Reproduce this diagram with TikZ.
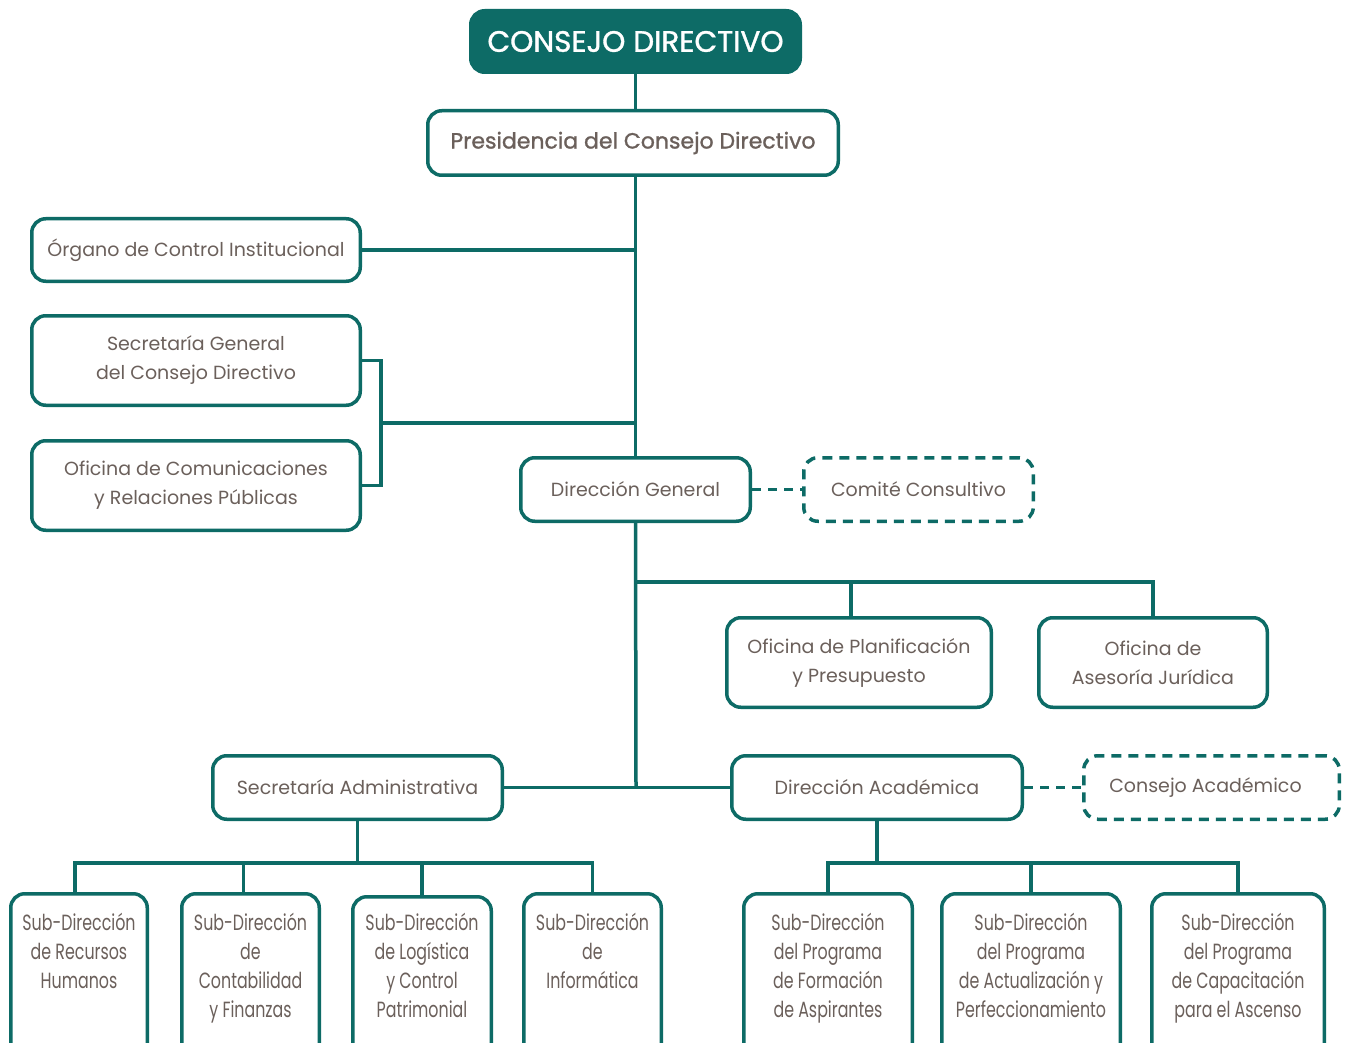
\documentclass[tikz,border=0pt]{standalone}
\usepackage{fontspec}
\setmainfont{Poppins}
\newfontfamily\condfont[FakeStretch=0.72]{Poppins}
\newfontfamily\medfont[FakeBold=1.2]{Poppins}
\usetikzlibrary{calc}
\definecolor{teal1}{HTML}{0D6B66}
\definecolor{txt}{HTML}{6B605B}
\newcommand\mkbox[7]{\node[#1, minimum width={(#5-#3-3.5)*1pt}, minimum height={(#6-#4-3.5)*1pt}] (#2) at ({(#3+#5)/2},{(#4+#6)/2}) {#7};}
\newcommand\subtext[3][17pt]{\parbox[c][160pt][t]{#2}{\centering\condfont\fontsize{22}{29}\selectfont\vspace*{#1}#3}}
\begin{document}
\begin{tikzpicture}[x=1pt,y=-1pt,
  box/.style={draw=teal1, line width=3.5pt, rounded corners=14pt, fill=white, text=txt, align=center,
    font=\fontsize{19}{29}\selectfont, inner sep=0pt},
  dbox/.style={box, dash pattern=on 10pt off 7pt},
  topbox/.style={box, fill=teal1, text=white, font=\medfont\fontsize{29.5}{32}\selectfont},
  link/.style={draw=teal1, line width=3.5pt},
  dlink/.style={link, dash pattern=on 9pt off 7pt}]
\path[use as bounding box, clip] (0,0) rectangle (1352,1043);
\fill[white] (0,0) rectangle (1352,1043);
% boxes
\mkbox{topbox}{cd}{469}{9}{802}{74}{CONSEJO DIRECTIVO}
\mkbox{box, font=\medfont\fontsize{22}{29}\selectfont}{pres}{426}{109}{840}{177}{Presidencia del Consejo Directivo}
\mkbox{box}{org}{30}{217}{362}{283}{Órgano de Control Institucional}
\mkbox{box}{sg}{30}{314}{362}{407}{Secretaría General\\del Consejo Directivo}
\mkbox{box}{ofc}{30}{439}{362}{532}{Oficina de Comunicaciones\\y Relaciones Públicas}
\mkbox{box}{dg}{519}{456}{752}{523}{Dirección General}
\mkbox{dbox}{cc}{802}{456}{1035}{523}{Comité Consultivo}
\mkbox{box}{opp}{725}{616}{993}{709}{Oficina de Planificación\\y Presupuesto}
\mkbox{box}{oaj}{1037}{616}{1269}{709}{Oficina de\\Asesoría Jurídica}
\mkbox{box}{sa}{211}{754}{504}{821}{Secretaría Administrativa}
\mkbox{box}{da}{730}{754}{1024}{821}{Dirección Académica}
\mkbox{dbox}{ca}{1082}{754}{1341}{821}{\hspace*{-12pt}Consejo Académico}
% bottom left
\mkbox{box}{s1}{9}{892}{149}{1060}{\subtext{134pt}{Sub-Dirección\\de Recursos\\Humanos}}
\mkbox{box}{s2}{180}{892}{321}{1060}{\subtext{134pt}{Sub-Dirección\\de\\Contabilidad\\y Finanzas}}
\mkbox{box}{s3}{351}{895}{493}{1063}{\subtext[14pt]{134pt}{Sub-Dirección\\de Logística\\y Control\\Patrimonial}}
\mkbox{box}{s4}{522}{892}{663}{1060}{\subtext{134pt}{Sub-Dirección\\de\\Informática}}
% bottom right
\mkbox{box}{s5}{742}{892}{914}{1060}{\subtext{166pt}{Sub-Dirección\\del Programa\\de Formación\\de Aspirantes}}
\mkbox{box}{s6}{940}{892}{1122}{1060}{\subtext{176pt}{Sub-Dirección\\del Programa\\de Actualización y\\Perfeccionamiento}}
\mkbox{box}{s7}{1150}{892}{1326}{1060}{\subtext{170pt}{Sub-Dirección\\del Programa\\de Capacitación\\para el Ascenso}}
% connectors
\coordinate (spine) at (636,786);
\draw[link] (cd.south) -- (cd.south |- pres.north);
\draw[link] (pres.south -| cd.south) -- (dg.north -| cd.south);
\draw[link] (dg.south -| cd.south) -- (spine);
\draw[link] (org.east) -- (org.east -| cd.south);
\draw[link] (sg.east) -- ++(19,0) coordinate (b1) -- (b1 |- ofc.east) -- (ofc.east);
\draw[link] ($(b1)!0.5!(b1 |- ofc.east)$) coordinate (bm) -- (bm -| cd.south);
\draw[dlink] (dg.east) -- (cc.west);
\coordinate (hb) at (636,582);
\draw[link] (hb) -| ([xshift=-8pt]opp.north);
\draw[link] (hb) -| (oaj.north);
\draw[link] (sa.east) -- (da.west);
\draw[dlink] (da.east) -- (ca.west);
% admin tree
\draw[link] (sa.south) -- ++(0,42) coordinate (sab);
\draw[link] ([xshift=-4pt]s1.north) |- (sab) -| (s4.north);
\draw[link] ([xshift=-7pt]s2.north) -- ([xshift=-7pt]s2.north |- sab);
\draw[link] (s3.north) -- (s3.north |- sab);
% academic tree
\draw[link] (da.south) -- ++(0,42) coordinate (dab);
\draw[link] (s5.north) |- (dab) -| (s7.north);
\draw[link] (s6.north) -- (s6.north |- dab);
\end{tikzpicture}
\end{document}
